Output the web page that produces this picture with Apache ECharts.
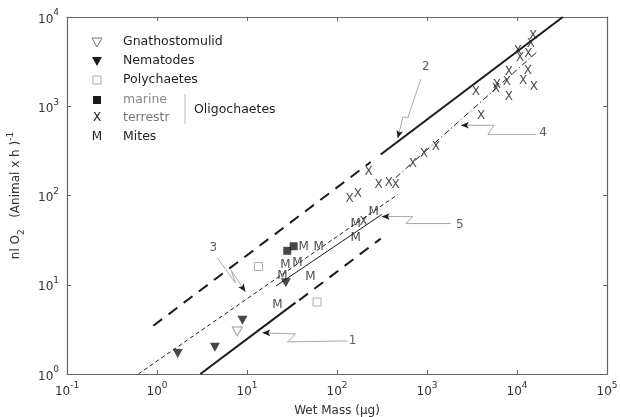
<!DOCTYPE html>
<html>
<head>
<meta charset="utf-8">
<script src="https://cdn.jsdelivr.net/npm/echarts@6/dist/echarts.min.js"></script>
<style>
  html, body { margin: 0; background: #fff; }
  #chart { width: 620px; height: 417px; }
</style>
</head>
<body>
<div id="chart"></div>
<script>
// values: [wet mass (ug), nl O2 per animal per h]
const gnathostomulid = [[7.8, 3.0]];
const nematodes = [[1.7, 1.7], [4.4, 2.0], [8.9, 4.0], [27, 10.5]];
const polychaetes = [[13.4, 16], [60, 6.4]];
const marineOligo = [[28, 24], [33, 27]];
const terrestrOligo = [
  [138, 92], [170, 103], [225, 186], [290, 133], [376, 140], [448, 130],
  [198, 50], [695, 227], [921, 289], [1253, 355], [3980, 773], [3490, 1436],
  [5830, 1550], [5990, 1720], [7730, 1860], [8130, 1290], [8130, 2410],
  [11670, 1910], [13200, 2470], [15400, 1640], [10240, 4150], [10800, 3460],
  [13400, 3830], [15100, 6120], [14300, 4970]
];
const mites = [
  [24.8, 12.6], [26.8, 16.8], [36.4, 17.7], [42.5, 26.7], [62.4, 26.7],
  [50.8, 12.3], [21.8, 6.0], [161, 33.7], [161, 48.5], [256, 66]
];

// regression lines (end points)
const line1 = [[3.03, 1], [34.6, 6.3]];
const line1Ext = [[38, 6.7], [306, 32.9]];
const line2Ext = [[0.91, 3.47], [237, 237]];
const line2 = [[306, 288], [32300, 10000]];
const line3 = [[0.62, 1], [473, 102.6]];
const line4 = [[450, 159], [17100, 4150]];
const line5 = [[21.2, 9.75], [314, 61.2]];

// callouts: tip first, then the bent leader line
const callout1 = [[14.8, 2.89], [34.6, 2.81], [28.2, 2.29], [131, 2.35]];
const callout2 = [[473, 437], [540, 760], [610, 740], [853, 2010]];
const callout3 = [[9.6, 8.34], [6.7, 14.4], [7.43, 10.5], [4.68, 20.1]];
const callout4 = [[2377, 612], [5550, 612], [4750, 484], [16300, 484]];
const callout5 = [[314, 58.1], [695, 58.1], [581, 48.5], [1841, 48.5]];
const calloutLabels = [
  ['1', 149, 2.35], ['2', 970, 2740], ['3', 4.22, 26], ['4', 19500, 497], ['5', 2317, 47.2]
];

const FONT = "DejaVu Sans";
const INK = "#1a1a1a";

function powerLabel(value) {
  const e = Math.round(Math.log10(value));
  return "{b|10}{s|" + e + "}";
}
const powerRich = {
  b: { fontSize: 12, fontFamily: FONT, color: "#333", lineHeight: 17, verticalAlign: "bottom" },
  s: { fontSize: 9, fontFamily: FONT, color: "#333", lineHeight: 17, verticalAlign: "top" }
};

function refLine(name, data, width, type) {
  return {
    name: name, type: "line", data: data, symbol: "none", silent: true, z: 3,
    lineStyle: { color: INK, width: width, type: type }
  };
}

function callout(data, rotate) {
  const items = data.map(function(p, i) {
    if (i === 0) {
      return { value: p, symbol: "arrow", symbolSize: [5, 8], symbolRotate: rotate,
        itemStyle: { color: INK } };
    }
    return { value: p, symbol: "none" };
  });
  return {
    type: "line", data: items, symbol: "none", silent: true, z: 2,
    lineStyle: { color: "#a8a8a8", width: 1 }
  };
}

function letterSeries(name, data, letter) {
  return {
    name: name, type: "scatter", data: data, symbol: "circle", symbolSize: 2, z: 5,
    itemStyle: { color: "rgba(0,0,0,0)" },
    label: { show: true, position: "inside", formatter: letter, fontSize: 12,
      fontFamily: FONT, color: INK }
  };
}

function legendText(x, y, text, color) {
  return { type: "text", x: x, y: y, silent: true,
    style: { text: text, font: "12.5px " + FONT, fill: color, verticalAlign: "middle" } };
}

const chart = echarts.init(document.getElementById("chart"));

const option = {
  animation: false,
  backgroundColor: "#fff",
  grid: { left: 67, right: 13, top: 17, bottom: 43, containLabel: false, outerBoundsMode: "none" },
  xAxis: [
    {
      type: "log", logBase: 10, min: 0.1, max: 100000,
      axisLine: { lineStyle: { color: "#666", width: 1.2 } },
      axisTick: { inside: true, length: 4, lineStyle: { color: "#666" } },
      axisLabel: { formatter: powerLabel, rich: powerRich, margin: 7 },
      splitLine: { show: false },
      name: "Wet Mass (\u00b5g)", nameLocation: "middle", nameGap: 31,
      nameTextStyle: { fontSize: 12, fontFamily: FONT, color: "#333" }
    },
    {
      type: "log", logBase: 10, min: 0.1, max: 100000, position: "top",
      axisLine: { lineStyle: { color: "#666", width: 1.2 } },
      axisTick: { inside: true, length: 4, lineStyle: { color: "#666" } },
      axisLabel: { show: false }, splitLine: { show: false }
    }
  ],
  yAxis: [
    {
      type: "log", logBase: 10, min: 1, max: 10000,
      axisLine: { lineStyle: { color: "#666", width: 1.2 } },
      axisTick: { inside: true, length: 4, lineStyle: { color: "#666" } },
      axisLabel: { formatter: powerLabel, rich: powerRich, margin: 8 },
      splitLine: { show: false },
      name: "{t|nl O}{sub|2}{t|   (Animal x h )}{sup|-1}",
      nameLocation: "middle", nameGap: 41,
      nameTextStyle: {
        rich: {
          t: { fontSize: 12, fontFamily: FONT, color: "#333", lineHeight: 20, verticalAlign: "middle" },
          sub: { fontSize: 9, fontFamily: FONT, color: "#333", lineHeight: 20, verticalAlign: "bottom" },
          sup: { fontSize: 9, fontFamily: FONT, color: "#333", lineHeight: 20, verticalAlign: "top" }
        }
      }
    },
    {
      type: "log", logBase: 10, min: 1, max: 10000, position: "right",
      axisLine: { lineStyle: { color: "#666", width: 1.2 } },
      axisTick: { inside: true, length: 4, lineStyle: { color: "#666" } },
      axisLabel: { show: false }, splitLine: { show: false }
    }
  ],
  series: [
    refLine("1", line1, 2, "solid"),
    refLine("1 ext", line1Ext, 2, [11, 8]),
    refLine("2 ext", line2Ext, 2, [11, 8]),
    refLine("2", line2, 2, "solid"),
    refLine("3", line3, 1, [4, 3]),
    refLine("4", line4, 1, [6, 3, 1, 3]),
    refLine("5", line5, 1, "solid"),
    callout(callout1, 90),
    callout(callout2, 165),
    callout(callout3, 214),
    callout(callout4, 90),
    callout(callout5, 90),
    {
      type: "scatter", silent: true, z: 4, symbolSize: 1,
      itemStyle: { color: "rgba(0,0,0,0)" },
      data: calloutLabels.map(function(d) { return { name: d[0], value: [d[1], d[2]] }; }),
      label: { show: true, position: "inside", formatter: "{b}", fontSize: 12,
        fontFamily: FONT, color: "#333" }
    },
    {
      name: "Gnathostomulid", type: "scatter", data: gnathostomulid, z: 5,
      symbol: "triangle", symbolRotate: 180, symbolSize: [10, 9],
      itemStyle: { color: "#fff", borderColor: "#888", borderWidth: 1 }
    },
    {
      name: "Nematodes", type: "scatter", data: nematodes, z: 5,
      symbol: "triangle", symbolRotate: 180, symbolSize: [10, 9],
      itemStyle: { color: INK }
    },
    {
      name: "Polychaetes", type: "scatter", data: polychaetes, z: 5,
      symbol: "rect", symbolSize: 8,
      itemStyle: { color: "#fff", borderColor: "#999", borderWidth: 1 }
    },
    {
      name: "marine", type: "scatter", data: marineOligo, z: 5,
      symbol: "rect", symbolSize: 8,
      itemStyle: { color: INK }
    },
    letterSeries("terrestr", terrestrOligo, "X"),
    letterSeries("Mites", mites, "M")
  ],
  graphic: [
    { type: "polygon", silent: true, shape: { points: [[92, 38], [102, 38], [97, 47]] },
      style: { fill: "#fff", stroke: "#777", lineWidth: 1 } },
    legendText(123, 42, "Gnathostomulid", "#222"),
    { type: "polygon", silent: true, shape: { points: [[92, 57], [102, 57], [97, 66]] },
      style: { fill: INK } },
    legendText(123, 61, "Nematodes", "#222"),
    { type: "rect", silent: true, shape: { x: 93, y: 76, width: 8, height: 8 },
      style: { fill: "#fff", stroke: "#aaa", lineWidth: 1 } },
    legendText(123, 80, "Polychaetes", "#222"),
    { type: "rect", silent: true, shape: { x: 93, y: 96, width: 8, height: 8 },
      style: { fill: INK } },
    legendText(123, 100, "marine", "#888"),
    { type: "text", x: 97, y: 118, silent: true,
      style: { text: "X", font: "12px " + FONT, fill: INK, align: "center", verticalAlign: "middle" } },
    legendText(123, 118, "terrestr", "#777"),
    { type: "line", silent: true, shape: { x1: 185, y1: 94, x2: 185, y2: 124 },
      style: { stroke: "#bbb", lineWidth: 1 } },
    legendText(194, 110, "Oligochaetes", "#222"),
    { type: "text", x: 97, y: 137, silent: true,
      style: { text: "M", font: "12px " + FONT, fill: INK, align: "center", verticalAlign: "middle" } },
    legendText(123, 137, "Mites", "#222")
  ]
};

chart.setOption(option);
</script>
</body>
</html>
